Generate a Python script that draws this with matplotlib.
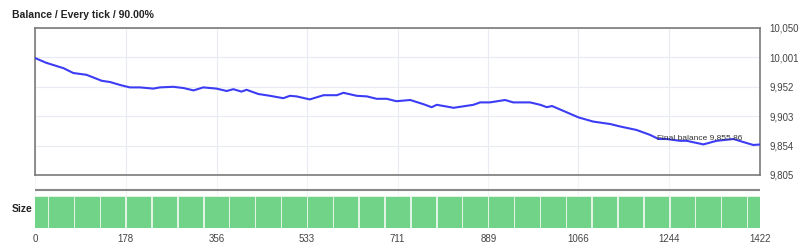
import matplotlib
matplotlib.use("Agg")
import matplotlib.pyplot as plt

# balance curve
ticks = [0, 22, 56, 75, 101, 131, 147, 167, 186, 206, 232, 245, 271, 291, 311, 330, 356,
         376, 389, 405, 415, 438, 461, 487, 500, 513, 539, 566, 592, 605, 631, 651, 670,
         690, 709, 736, 762, 778, 788, 821, 860, 873, 892, 922, 938, 971, 991, 1004, 1014,
         1036, 1066, 1095, 1128, 1147, 1180, 1206, 1223, 1239, 1265, 1278, 1311, 1337,
         1370, 1389, 1409, 1422]
balance = [10000, 9992, 9983, 9975, 9972, 9962, 9960, 9955, 9951, 9951, 9949, 9951, 9952,
           9950, 9946, 9951, 9949, 9945, 9948, 9944, 9947, 9940, 9937, 9933, 9937, 9936,
           9931, 9938, 9938, 9942, 9937, 9936, 9932, 9932, 9928, 9930, 9923, 9918, 9922,
           9917, 9922, 9926, 9926, 9930, 9926, 9926, 9922, 9918, 9920, 9912, 9901, 9894,
           9890, 9886, 9880, 9872, 9865, 9865, 9862, 9862, 9856, 9862, 9865, 9860, 9855,
           9855.86]

yticks = [9805, 9854, 9903, 9952, 10001, 10050]
xticks = [0, 178, 356, 533, 711, 889, 1066, 1244, 1422]

size_x = [0, 51, 102, 152, 203, 254, 305, 356, 406, 457, 508, 559, 609, 660, 711, 762,
          813, 863, 914, 965, 1016, 1066, 1117, 1168, 1219, 1270, 1320, 1371, 1422]
size_h = [1] * len(size_x)

plt.rcParams["font.family"] = ["Liberation Sans", "DejaVu Sans"]

fig = plt.figure(figsize=[8, 2.5], dpi=100, facecolor="white")
ax = fig.add_axes([0.04375, 0.30, 0.90625, 0.588])
ax2 = fig.add_axes([0.04375, 0.088, 0.90625, 0.208])

ax.plot(ticks, balance, color="#3c3cf5", lw=1.5, zorder=3)
ax.set_xlim(0, 1422)
ax.set_ylim(9805, 10050)
ax.set_yticks(yticks)
ax.set_yticklabels([f"{v:,}" for v in yticks])
ax.yaxis.tick_right()
ax.set_xticks(xticks)
ax.tick_params(axis="x", length=0, labelbottom=False)
ax.tick_params(axis="y", length=0, pad=7, labelsize=7, labelcolor="#444444")
ax.grid(True, color="#e9ebf2", lw=0.8)
for s in ax.spines.values():
    s.set_color("#7a7a7a")
    s.set_linewidth(1.2)

ax.text(1220, 9861, "Final balance 9,855.86", fontsize=6, color="#333333",
        va="bottom", ha="left", zorder=4)

ax2.bar(size_x, size_h, width=50.8, color="#70d388", edgecolor="#e2f4e6", lw=0.7,
        zorder=2)
ax2.set_xlim(0, 1422)
ax2.set_ylim(0, 1.61)
ax2.set_xticks(xticks)
ax2.set_yticks([])
ax2.tick_params(axis="x", length=0, pad=4, labelsize=7, labelcolor="#444444")
ax2.grid(True, axis="x", color="#e9ebf2", lw=0.8, zorder=3, alpha=0.5)
for s in ax2.spines.values():
    s.set_visible(False)
ax2.plot([0, 1], [0.731, 0.731], transform=ax2.transAxes, color="#888888", lw=1.5)

fig.text(0.015, 0.94, "Balance / Every tick / 90.00%", fontsize=7.5, fontweight="bold",
         color="#222222", va="center")
fig.text(0.015, 0.164, "Size", fontsize=7.5, fontweight="bold", color="#222222",
         va="center")

plt.savefig("out.png", dpi=100, facecolor="white")
